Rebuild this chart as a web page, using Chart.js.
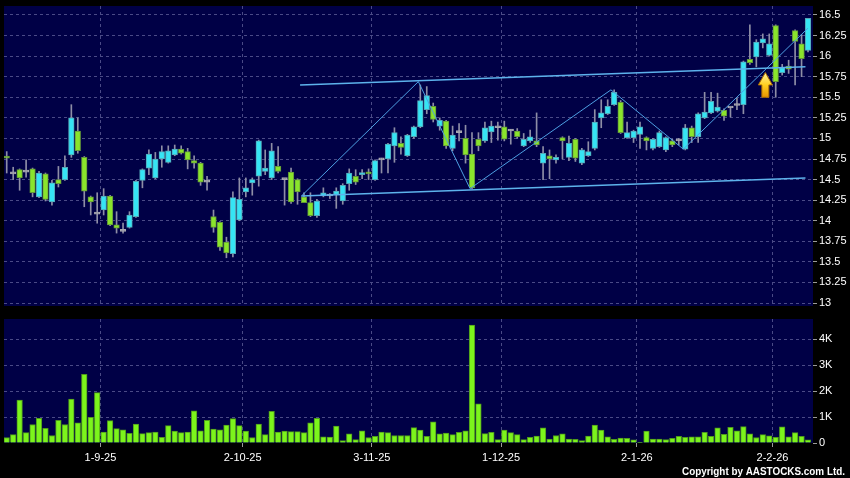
<!DOCTYPE html>
<html>
<head>
<meta charset="utf-8">
<script src="https://cdn.jsdelivr.net/npm/chart.js@4"></script>
<style>
  body { margin: 0; background: #000; }
  #wrap { position: relative; width: 850px; height: 478px; background: #000; overflow: hidden; }
  canvas { position: absolute; left: 0; }
  #price { top: 0; }
  #vol { top: 315px; }
</style>
</head>
<body>
<div id="wrap">
  <canvas id="price" width="850" height="315"></canvas>
  <canvas id="vol" width="850" height="163"></canvas>
</div>
<script>
// daily candles (index 0 = first day shown)
var openP = [14.78,14.57,14.62,14.59,14.63,14.29,14.57,14.23,14.50,14.50,
             14.80,15.09,14.77,14.29,14.08,14.13,14.30,13.95,13.87,13.92,
             14.05,14.49,14.64,14.52,14.75,14.71,14.80,14.87,14.84,14.73,
             14.70,14.47,14.05,13.98,13.74,13.60,14.01,14.35,14.46,14.54,
             14.60,14.52,14.66,14.50,14.59,14.50,14.29,14.22,14.06,14.30,
             14.30,14.32,14.24,14.45,14.54,14.56,14.59,14.50,14.74,14.75,
             14.91,14.94,14.79,15.02,15.14,15.35,15.39,15.15,15.21,14.88,
             15.07,15.00,14.81,14.99,14.97,15.08,15.13,15.14,15.09,15.09,
             14.91,14.97,14.97,14.70,14.79,14.74,15.01,14.77,14.99,14.70,
             14.79,14.88,15.25,15.30,15.41,15.44,15.01,15.01,15.05,15.01,
             14.88,14.90,14.86,14.97,14.97,14.87,15.13,15.02,15.25,15.31,
             15.33,15.34,15.37,15.40,15.41,15.96,15.99,16.16,16.01,16.37,
             15.80,15.88,16.31,16.15,16.07];
var highP = [14.84,14.65,14.63,14.74,14.64,14.60,14.58,14.49,14.66,14.79,
             15.41,15.25,14.78,14.30,14.34,14.39,14.31,14.11,13.97,14.11,
             14.49,14.63,14.86,14.83,14.91,14.91,14.92,14.91,14.88,14.79,
             14.71,14.54,14.13,13.99,13.80,14.35,14.52,14.52,14.52,14.98,
             14.86,14.94,14.90,14.51,14.64,14.51,14.34,14.34,14.26,14.40,
             14.33,14.40,14.45,14.63,14.62,14.62,14.63,14.74,14.76,14.94,
             15.13,15.02,15.05,15.15,15.65,15.63,15.43,15.25,15.22,15.15,
             15.18,15.16,15.07,15.07,15.20,15.21,15.20,15.21,15.11,15.12,
             15.06,15.10,15.31,14.90,14.86,14.80,15.02,15.03,15.00,14.88,
             14.96,15.35,15.47,15.47,15.59,15.46,15.20,15.10,15.20,15.02,
             15.00,15.09,15.02,14.99,15.00,15.17,15.15,15.31,15.56,15.56,
             15.55,15.36,15.38,15.49,15.94,16.38,16.20,16.27,16.27,16.38,
             15.90,15.95,16.32,16.26,16.46];
var lowP  = [14.58,14.50,14.37,14.53,14.29,14.28,14.24,14.19,14.41,14.49,
             14.77,14.82,14.17,14.07,13.97,14.07,13.94,13.85,13.85,13.91,
             14.04,14.40,14.56,14.51,14.65,14.70,14.79,14.81,14.63,14.64,
             14.43,14.37,13.86,13.64,13.55,13.56,14.00,14.29,14.31,14.42,
             14.56,14.50,14.58,14.19,14.21,14.20,14.22,14.05,14.04,14.29,
             14.27,14.15,14.20,14.37,14.44,14.51,14.50,14.49,14.58,14.58,
             14.71,14.81,14.78,15.00,15.13,15.30,15.20,15.10,14.88,14.85,
             14.97,14.70,14.39,14.85,14.95,14.95,14.98,14.97,14.93,15.00,
             14.90,14.95,14.90,14.50,14.51,14.70,14.75,14.73,14.72,14.68,
             14.78,14.86,15.13,15.29,15.40,15.06,15.00,14.95,14.88,14.86,
             14.86,14.89,14.84,14.90,14.92,14.86,14.95,14.95,15.24,15.30,
             15.32,15.22,15.26,15.35,15.30,15.90,15.87,16.10,16.00,15.50,
             15.77,15.79,15.65,15.75,16.05];
var closeP = [14.76,14.57,14.52,14.59,14.34,14.58,14.26,14.46,14.45,14.65,
             15.25,14.85,14.36,14.23,14.08,14.30,13.95,13.91,13.87,14.07,
             14.48,14.62,14.81,14.75,14.84,14.85,14.87,14.82,14.74,14.70,
             14.47,14.47,13.92,13.68,13.61,14.28,14.26,14.40,14.50,14.97,
             14.64,14.85,14.60,14.50,14.23,14.35,14.22,14.06,14.24,14.34,
             14.30,14.36,14.43,14.58,14.47,14.58,14.57,14.73,14.74,14.93,
             15.07,14.89,15.04,15.14,15.46,15.52,15.23,15.22,14.91,15.04,
             15.07,14.80,14.40,14.91,15.13,15.15,15.13,14.99,15.09,15.02,
             14.99,15.02,14.92,14.82,14.75,14.77,14.97,14.94,14.76,14.86,
             14.84,15.20,15.31,15.39,15.56,15.07,15.07,15.09,15.14,14.97,
             14.99,15.07,15.01,14.92,14.97,15.13,15.02,15.30,15.32,15.45,
             15.38,15.27,15.37,15.40,15.93,15.92,16.17,16.21,16.15,15.69,
             15.86,15.84,16.18,15.97,16.46];
var volumes = [210,320,1650,400,710,950,560,290,870,710,
               1690,780,2640,990,1940,420,860,550,510,370,
               730,360,400,420,220,670,460,400,420,1240,
               470,870,540,510,690,940,670,460,210,730,
               320,1220,420,460,440,440,400,780,950,240,
               230,650,90,350,130,470,210,260,420,400,
               290,290,290,590,500,260,810,350,380,320,
               410,470,4540,1510,360,410,130,500,400,320,
               130,220,270,580,150,290,350,150,140,90,
               270,690,500,240,140,190,180,120,10,460,
               150,150,130,180,260,220,240,240,410,260,
               580,330,600,470,630,350,210,320,280,220,
               620,240,400,260,120];

var monthTickAt = [14.5, 36.5, 56.5, 76.5, 97.5, 118.5];
var monthLabels = ['1-9-25', '2-10-25', '3-11-25', '1-12-25', '2-1-26', '2-2-26'];
var priceTicks = [13, 13.25, 13.5, 13.75, 14, 14.25, 14.5, 14.75, 15, 15.25, 15.5, 15.75, 16, 16.25, 16.5];
var volTicks = [0, 1000, 2000, 3000, 4000];

// drawn trend lines: [day index, price]
var channelTop = [[45.4, 15.65], [123.6, 15.87]];
var channelBottom = [[45.6, 14.30], [123.6, 14.52]];
var zigzag = [[45.6, 14.30], [63.7, 15.69], [71.7, 14.39], [93.5, 15.59], [104.7, 14.87], [124.0, 16.34]];
var arrowAt = [117.4, 15.50, 15.80]; // index, base price, tip price

var idx = openP.map(function(v, i) { return i; });
var xMin = -0.42, xMax = 124.77;
var gridCol = '#4a4a86';
var tickFont = { family: '"Liberation Sans", Arial, sans-serif', size: 11 };

function candleColor(i) {
    if (closeP[i] > openP[i]) return '#36e4f4';
    if (closeP[i] < openP[i]) return '#8ae42c';
    return '#a8a8b0';
}
function candleBorder(i) {
    if (closeP[i] > openP[i]) return '#55a6b6';
    if (closeP[i] < openP[i]) return '#62963a';
    return '#a8a8b0';
}

var plotBg = {
    id: 'plotBg',
    beforeDraw: function(chart) {
        var a = chart.chartArea, ctx = chart.ctx;
        ctx.save();
        ctx.fillStyle = '#000046';
        ctx.fillRect(a.left, a.top, a.right - a.left, a.bottom - a.top);
        ctx.restore();
    }
};

var arrowPlugin = {
    id: 'arrow',
    afterDatasetsDraw: function(chart) {
        var ctx = chart.ctx;
        var x = chart.scales.x.getPixelForValue(arrowAt[0]);
        var yb = chart.scales.y.getPixelForValue(arrowAt[1]);
        var yt = chart.scales.y.getPixelForValue(arrowAt[2]);
        var headH = (yb - yt) * 0.5;
        var g = ctx.createLinearGradient(0, yt, 0, yb);
        g.addColorStop(0, '#fff4a0');
        g.addColorStop(0.5, '#ffd020');
        g.addColorStop(1, '#e89400');
        ctx.save();
        ctx.beginPath();
        ctx.moveTo(x, yt);
        ctx.lineTo(x + 7, yt + headH);
        ctx.lineTo(x + 3.5, yt + headH);
        ctx.lineTo(x + 3.5, yb);
        ctx.lineTo(x - 3.5, yb);
        ctx.lineTo(x - 3.5, yt + headH);
        ctx.lineTo(x - 7, yt + headH);
        ctx.closePath();
        ctx.fillStyle = g;
        ctx.fill();
        ctx.strokeStyle = '#b07000';
        ctx.lineWidth = 1;
        ctx.stroke();
        ctx.restore();
    }
};

var copyright = {
    id: 'copyright',
    afterDraw: function(chart) {
        var ctx = chart.ctx;
        ctx.save();
        ctx.font = 'bold 10px "Liberation Sans", Arial, sans-serif';
        ctx.fillStyle = '#ffffff';
        ctx.textAlign = 'right';
        ctx.textBaseline = 'middle';
        ctx.fillText('Copyright by AASTOCKS.com Ltd.', 845, 157, 163);
        ctx.restore();
    }
};

function lineSet(pts, color, width) {
    return {
        type: 'line',
        data: pts.map(function(p) { return { x: p[0], y: p[1] }; }),
        borderColor: color,
        borderWidth: width,
        pointRadius: 0,
        fill: false,
        order: 1
    };
}

function monthAxis(showLabels) {
    return {
        type: 'linear',
        min: xMin,
        max: xMax,
        offset: false,
        afterBuildTicks: function(s) {
            s.ticks = monthTickAt.map(function(v) { return { value: v }; });
        },
        afterFit: function(s) {
            s.height = showLabels ? 35 : 0;
            s.paddingLeft = 0;
            s.paddingRight = 0;
        },
        ticks: {
            display: showLabels,
            color: '#ffffff',
            font: tickFont,
            padding: 4,
            maxRotation: 0,
            autoSkip: false,
            callback: function(v, i) { return monthLabels[i]; }
        },
        grid: { offset: false, color: gridCol, drawTicks: showLabels, tickLength: 4, tickColor: '#9a9a9a' },
        border: { display: false, dash: [3, 3] }
    };
}

function rightAxis(min, max, ticks, fmt) {
    return {
        position: 'right',
        min: min,
        max: max,
        afterBuildTicks: function(s) {
            s.ticks = ticks.map(function(v) { return { value: v }; });
        },
        afterFit: function(s) {
            s.width = 37;
            s.paddingTop = 0;
            s.paddingBottom = 0;
        },
        ticks: { color: '#ffffff', font: tickFont, padding: 2, callback: fmt },
        grid: {
            color: function(c) { return c.tick && c.tick.value === 0 ? 'rgba(0,0,0,0)' : gridCol; },
            tickLength: 4,
            tickColor: '#9a9a9a'
        },
        border: { display: false, dash: [3, 3] }
    };
}

new Chart(document.getElementById('price'), {
    type: 'bar',
    data: {
        datasets: [
            {
                data: idx.map(function(i) { return { x: i, y: [lowP[i], highP[i]] }; }),
                backgroundColor: '#8e8ea6',
                barThickness: 1,
                grouped: false,
                order: 3
            },
            {
                data: idx.map(function(i) { return { x: i, y: [openP[i], closeP[i]] }; }),
                backgroundColor: function(c) { return candleColor(c.dataIndex); },
                borderColor: function(c) { return candleBorder(c.dataIndex); },
                borderWidth: 1,
                borderSkipped: false,
                barThickness: 5.6,
                minBarLength: 2,
                grouped: false,
                order: 2
            },
            lineSet(channelTop, '#5db2ec', 1.5),
            lineSet(channelBottom, '#5db2ec', 1.5),
            lineSet(zigzag, '#4d9fe2', 1)
        ]
    },
    options: {
        responsive: false,
        animation: false,
        layout: { padding: { left: 4, top: 6, right: 0, bottom: 9 } },
        plugins: { legend: { display: false }, tooltip: { enabled: false } },
        scales: {
            x: monthAxis(false),
            y: rightAxis(12.964, 16.609, priceTicks, function(v) { return String(v); })
        }
    },
    plugins: [plotBg, arrowPlugin]
});

new Chart(document.getElementById('vol'), {
    type: 'bar',
    data: {
        datasets: [{
            data: idx.map(function(i) { return { x: i, y: volumes[i] }; }),
            backgroundColor: '#7cf41c',
            borderColor: '#4f9a1c',
            borderWidth: 1,
            barThickness: 5.6,
            grouped: false
        }]
    },
    options: {
        responsive: false,
        animation: false,
        layout: { padding: { left: 4, top: 4, right: 0, bottom: 0 } },
        plugins: { legend: { display: false }, tooltip: { enabled: false } },
        scales: {
            x: monthAxis(true),
            y: rightAxis(0, 4770, volTicks, function(v) { return v === 0 ? '0' : (v / 1000) + 'K'; })
        }
    },
    plugins: [plotBg, copyright]
});
</script>
</body>
</html>
